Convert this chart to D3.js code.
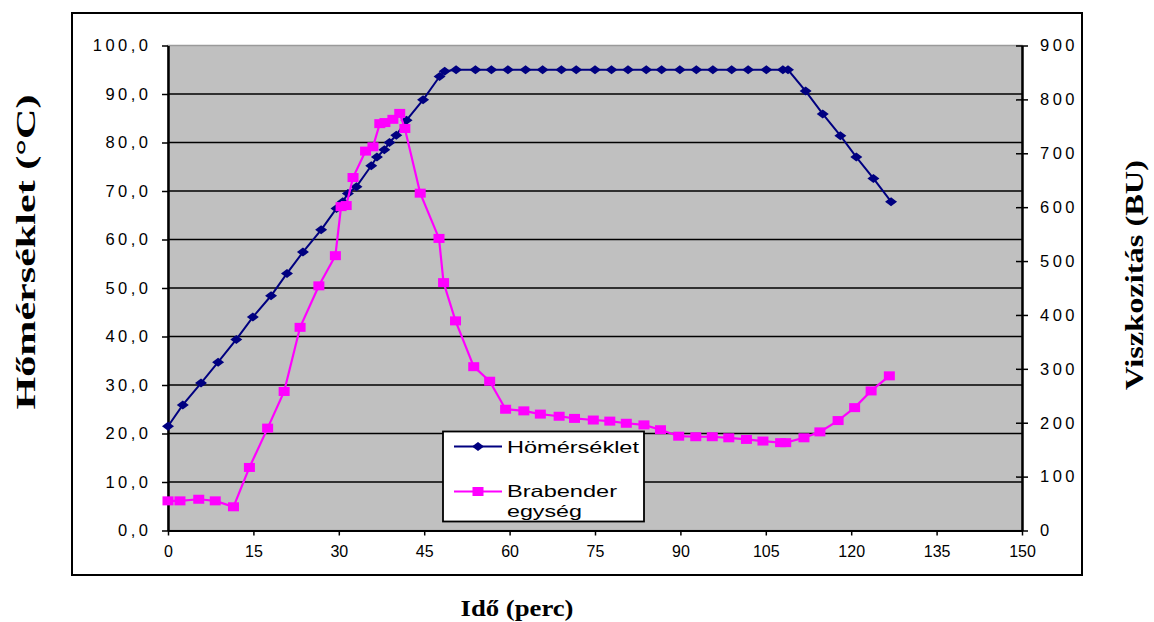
<!DOCTYPE html>
<html>
<head>
<meta charset="utf-8">
<script src="https://cdn.jsdelivr.net/npm/d3@7"></script>
<style>
  html, body { margin: 0; padding: 0; background: #fff; }
  svg { display: block; }
</style>
</head>
<body>
<svg id="chart" width="1154" height="622"></svg>
<script>
// Temperature series (°C) against time (min)
const tempTime = [0, 2.6, 5.8, 8.8, 12.0, 14.9, 18.1, 20.9, 23.7, 26.9, 29.6, 30.7, 31.6, 33.1,
  35.7, 36.7, 38.0, 38.9, 40.1, 41.9, 44.8, 47.7, 48.6, 50.6, 54.0, 56.8, 59.7, 62.8, 65.8,
  69.1, 71.7, 75.0, 77.9, 80.8, 84.0, 86.7, 89.9, 92.8, 95.7, 99.0, 101.9, 105.1, 108.0, 108.9,
  112.0, 115.0, 118.1, 120.9, 123.9, 127.0];
const tempValues = [21.5, 25.9, 30.4, 34.7, 39.4, 44.0, 48.4, 53.0, 57.4, 62.0, 66.4, 67.8, 69.5, 70.9,
  75.2, 77.0, 78.5, 80.0, 81.5, 84.6, 88.8, 93.6, 94.7, 95.0, 95.0, 95.0, 95.0, 95.0, 95.0,
  95.0, 95.0, 95.0, 95.0, 95.0, 95.0, 95.0, 95.0, 95.0, 95.0, 95.0, 95.0, 95.0, 95.0, 95.0,
  90.6, 85.9, 81.4, 77.0, 72.6, 67.8];

// Brabender viscosity series (BU) against time (min)
const buTime = [0, 2.1, 5.4, 8.3, 11.5, 14.3, 17.5, 20.4, 23.2, 26.5, 29.4, 30.4, 31.3, 32.5,
  34.7, 36.0, 37.2, 38.1, 39.5, 40.7, 41.6, 44.3, 47.6, 48.4, 50.5, 53.7, 56.5, 59.3, 62.5,
  65.4, 68.7, 71.4, 74.7, 77.6, 80.5, 83.6, 86.5, 89.7, 92.7, 95.6, 98.5, 101.6, 104.5, 107.6,
  108.5, 111.7, 114.5, 117.7, 120.6, 123.5, 126.7];
const buValues = [55, 55, 58, 55, 44, 117, 190, 258, 377, 454, 510, 601, 603, 655,
  704, 712, 755, 757, 763, 774, 746, 626, 542, 460, 389, 304, 277, 225, 222,
  216, 212, 208, 205, 203, 199, 196, 187, 175, 174, 174, 172, 169, 166, 163,
  163, 172, 183, 204, 228, 259, 287];

// Axis ticks
const xTicks = [0, 15, 30, 45, 60, 75, 90, 105, 120, 135, 150];
const leftTicks = [0, 10, 20, 30, 40, 50, 60, 70, 80, 90, 100];
const rightTicks = [0, 100, 200, 300, 400, 500, 600, 700, 800, 900];

// Texts
const xTitle = "Idő (perc)";
const leftTitle = "Hőmérséklet (°C)";
const rightTitle = "Viszkozitás (BU)";
const seriesNames = ["Hömérséklet", "Brabender", "egység"];

const tempColor = "#000080";
const buColor = "#FF00FF";

const svg = d3.select("#chart");
const plot = { left: 168, right: 1022, top: 45.5, bottom: 530.5 };

const x = d3.scaleLinear().domain([0, 150]).range([plot.left, plot.right]);
const yL = d3.scaleLinear().domain([0, 100]).range([plot.bottom, plot.top]);
const yR = d3.scaleLinear().domain([0, 900]).range([plot.bottom, plot.top]);

// Outer chart frame
svg.append("rect").attr("x", 72).attr("y", 13).attr("width", 1010).attr("height", 562)
  .attr("fill", "#fff").attr("stroke", "#000").attr("stroke-width", 2);

// Plot area
svg.append("rect")
  .attr("x", plot.left).attr("y", plot.top)
  .attr("width", plot.right - plot.left).attr("height", plot.bottom - plot.top)
  .attr("fill", "#C0C0C0").attr("stroke", "#9a9a9a").attr("stroke-width", 1.5);

// Horizontal gridlines
svg.append("g").selectAll("line")
  .data(leftTicks.filter(d => d > 0 && d < 100))
  .join("line")
  .attr("x1", plot.left).attr("x2", plot.right)
  .attr("y1", d => yL(d)).attr("y2", d => yL(d))
  .attr("stroke", "#000").attr("stroke-width", 1.6);

const tickFont = "'Liberation Sans', Arial, sans-serif";

// Bottom axis
const gx = svg.append("g").attr("transform", `translate(0,${plot.bottom})`)
  .call(d3.axisBottom(x).tickValues(xTicks).tickSize(5).tickSizeOuter(0).tickPadding(10));
gx.select(".domain").attr("stroke-width", 2);
gx.selectAll(".tick line").attr("stroke-width", 1.5);
gx.selectAll(".tick text").attr("font-family", tickFont).attr("font-size", 16).attr("fill", "#000");

// Left axis
const gl = svg.append("g").attr("transform", `translate(${plot.left},0)`)
  .call(d3.axisLeft(yL).tickValues(leftTicks).tickSize(6).tickSizeOuter(0).tickPadding(14)
    .tickFormat(d => d.toFixed(1).replace(".", ",")));
gl.select(".domain").attr("stroke-width", 2.5);
gl.selectAll(".tick line").attr("stroke-width", 1.5);
gl.selectAll(".tick text").attr("font-family", tickFont).attr("font-size", 16.5)
  .attr("letter-spacing", "3.5px").attr("dx", 3.5).attr("fill", "#000");

// Right axis, ticks crossing the axis line
const gr = svg.append("g").attr("transform", `translate(${plot.right},0)`)
  .call(d3.axisRight(yR).tickValues(rightTicks).tickSize(6).tickSizeOuter(0).tickPadding(12));
gr.select(".domain").attr("stroke-width", 2.5);
gr.selectAll(".tick line").attr("x1", -6).attr("stroke-width", 1.5);
gr.selectAll(".tick text").attr("font-family", tickFont).attr("font-size", 16.5)
  .attr("letter-spacing", "3.5px").attr("fill", "#000");

// Axis titles
const titleFont = "'Liberation Serif', 'Times New Roman', serif";
svg.append("text").text(xTitle)
  .attr("x", 517).attr("y", 616).attr("text-anchor", "middle")
  .attr("font-family", titleFont).attr("font-weight", "bold").attr("font-size", 23)
  .attr("textLength", 113).attr("lengthAdjust", "spacingAndGlyphs");
svg.append("text").text(leftTitle)
  .attr("transform", "translate(35,252) rotate(-90)").attr("text-anchor", "middle")
  .attr("font-family", titleFont).attr("font-weight", "bold").attr("font-size", 27)
  .attr("textLength", 315).attr("lengthAdjust", "spacingAndGlyphs");
svg.append("text").text(rightTitle)
  .attr("transform", "translate(1143,275) rotate(-90)").attr("text-anchor", "middle")
  .attr("font-family", titleFont).attr("font-weight", "bold").attr("font-size", 26)
  .attr("textLength", 230).attr("lengthAdjust", "spacingAndGlyphs");

// Series
const tempData = tempTime.map((t, i) => ({ t, v: tempValues[i] }));
const buData = buTime.map((t, i) => ({ t, v: buValues[i] }));

const diamond = (w, h) => `M0,${-h}L${w},0L0,${h}L${-w},0Z`;

svg.append("path").datum(tempData)
  .attr("fill", "none").attr("stroke", tempColor).attr("stroke-width", 2)
  .attr("d", d3.line().x(d => x(d.t)).y(d => yL(d.v)));
svg.append("g").selectAll("path").data(tempData).join("path")
  .attr("transform", d => `translate(${x(d.t)},${yL(d.v)})`)
  .attr("d", diamond(6, 4.5)).attr("fill", tempColor);

svg.append("path").datum(buData)
  .attr("fill", "none").attr("stroke", buColor).attr("stroke-width", 2.2)
  .attr("d", d3.line().x(d => x(d.t)).y(d => yR(d.v)));
svg.append("g").selectAll("rect").data(buData).join("rect")
  .attr("x", d => x(d.t) - 5.5).attr("y", d => yR(d.v) - 4.5)
  .attr("width", 11).attr("height", 9).attr("fill", buColor);

// Legend
const lg = svg.append("g");
lg.append("rect").attr("x", 443).attr("y", 431.5).attr("width", 201).attr("height", 90)
  .attr("fill", "#fff").attr("stroke", "#000").attr("stroke-width", 1.8);
lg.append("line").attr("x1", 454).attr("x2", 502).attr("y1", 446.5).attr("y2", 446.5)
  .attr("stroke", tempColor).attr("stroke-width", 2);
lg.append("path").attr("transform", "translate(478,446.5)").attr("d", diamond(6, 4.5)).attr("fill", tempColor);
lg.append("line").attr("x1", 454).attr("x2", 502).attr("y1", 491.5).attr("y2", 491.5)
  .attr("stroke", buColor).attr("stroke-width", 2.2);
lg.append("rect").attr("x", 472.5).attr("y", 487).attr("width", 11).attr("height", 9).attr("fill", buColor);

const legendText = [
  { s: seriesNames[0], y: 452.5, len: 132 },
  { s: seriesNames[1], y: 497, len: 110 },
  { s: seriesNames[2], y: 516.5, len: 75 }
];
lg.selectAll("text.lt").data(legendText).join("text").attr("class", "lt")
  .attr("x", 507).attr("y", d => d.y).text(d => d.s)
  .attr("font-family", tickFont).attr("font-size", 16.5)
  .attr("textLength", d => d.len).attr("lengthAdjust", "spacingAndGlyphs");
</script>
</body>
</html>
